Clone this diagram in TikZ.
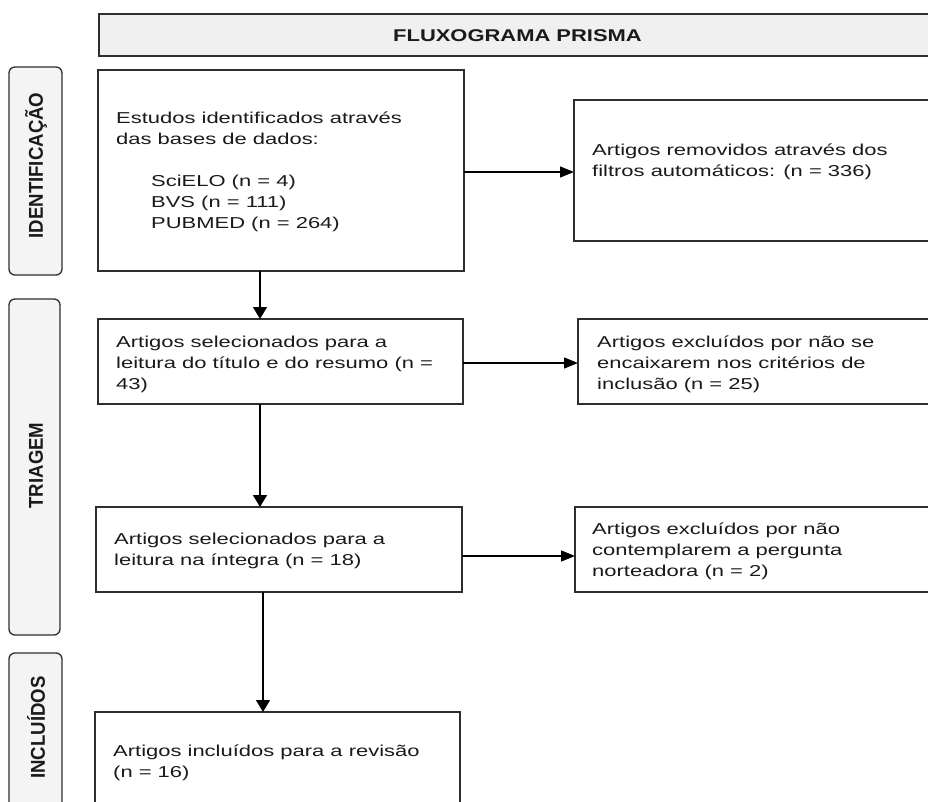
\documentclass[tikz,border=0pt]{standalone}
\usepackage{fontspec}
\usetikzlibrary{arrows.meta}
\newfontfamily\mainf[FakeStretch=1.39]{Liberation Sans}
\newfontfamily\titlef[FakeStretch=1.29]{Liberation Sans}
\newfontfamily\sidef[FakeStretch=0.93]{Liberation Sans}
\definecolor{edge}{HTML}{2E2E2E}
\definecolor{hdrfill}{HTML}{F0F0F0}
\definecolor{sidefill}{HTML}{F4F4F4}
\definecolor{ink}{HTML}{1A1A1A}
\begin{document}
\begin{tikzpicture}[x=1pt,y=-1pt,
  box/.style={draw=edge, line width=1.3pt, fill=white, inner sep=0pt, outer sep=0pt},
  hdrbox/.style={box, fill=hdrfill},
  sidebox/.style={draw=edge, line width=1.3pt, fill=sidefill, rounded corners=6pt, inner sep=0pt, outer sep=0pt},
  txt/.style={font=\mainf\fontsize{15.8}{21}\selectfont, text=ink, align=left, inner sep=0pt, anchor=base west},
  ttl/.style={font=\titlef\bfseries\fontsize{17}{20}\selectfont, text=ink, inner sep=0pt, anchor=base},
  sidetxt/.style={font=\sidef\bfseries\fontsize{20}{20}\selectfont, text=ink, inner sep=0pt, rotate=90},
  harr/.style={draw=black, line width=1.3pt, -{Triangle[length=14pt,width=11pt]}},
  varr/.style={draw=black, line width=1.3pt, -{Triangle[length=12pt,width=14pt]}}
]
\useasboundingbox (0,0) rectangle (928,802);
\clip (0,0) rectangle (928,802);

% header
\node[hdrbox, minimum width=841pt, minimum height=42pt] (hdr) at (519.5,35) {};
\node[ttl] (hdrt) at (517.5,41.5) {FLUXOGRAMA PRISMA};

% side labels
\node[sidebox, minimum width=53pt, minimum height=208pt] (s1) at (35.5,171) {};
\node[sidetxt] (s1t) at (36,165.5) {IDENTIFICAÇÃO};
\node[sidebox, minimum width=51pt, minimum height=336pt] (s2) at (34.5,467) {};
\node[sidetxt] (s2t) at (36,465.5) {TRIAGEM};
\node[sidebox, minimum width=53pt, minimum height=190pt] (s3) at (35.5,748) {};
\node[sidetxt] (s3t) at (36,727.5) {INCLUÍDOS};

% main column (text anchors at the baseline of the last line)
\node[box, minimum width=366pt, minimum height=201pt] (b1) at (281,170.5) {};
\node[txt] (b1t) at (116,145) {Estudos identificados através\\das bases de dados:};
\node[txt] (b1l) at (151,229) {SciELO (n = 4)\\BVS (n = 111)\\PUBMED (n = 264)};

\node[box, minimum width=365pt, minimum height=85pt] (b3) at (280.5,361.5) {};
\node[txt] (b3t) at (116,389) {Artigos selecionados para a\\leitura do título e do resumo (n =\\43)};

\node[box, minimum width=366pt, minimum height=85pt] (b4) at (279,549.5) {};
\node[txt] (b4t) at (114,565) {Artigos selecionados para a\\leitura na íntegra (n = 18)};

\node[box, minimum width=365pt, minimum height=120pt] (b5) at (277.5,772) {};
\node[txt] (b5t) at (113,777) {Artigos incluídos para a revisão\\(n = 16)};

% right column
\node[box, minimum width=366pt, minimum height=141pt] (b2) at (757,170.5) {};
\node[txt] (b2t) at (592,177) {Artigos removidos através dos\\filtros automáticos: (n = 336)};

\node[box, minimum width=362pt, minimum height=85pt] (b6) at (759,361.5) {};
\node[txt] (b6t) at (597,389) {Artigos excluídos por não se\\encaixarem nos critérios de\\inclusão (n = 25)};

\node[box, minimum width=365pt, minimum height=85pt] (b7) at (757.5,549.5) {};
\node[txt] (b7t) at (592,576) {Artigos excluídos por não\\contemplarem a pergunta\\norteadora (n = 2)};

% connectors
\draw[harr] ([yshift=-1.5pt]b1.east) -- ([yshift=-1.5pt]b1.east -| b2.west);
\draw[harr] ([yshift=-1.5pt]b3.east) -- ([yshift=-1.5pt]b3.east -| b6.west);
\draw[harr] ([yshift=-6.5pt]b4.east) -- ([yshift=-6.5pt]b4.east -| b7.west);

\coordinate (v1) at ([xshift=-21pt]b1.south);
\coordinate (v2) at ([xshift=-20.5pt]b3.south);
\coordinate (v3) at ([xshift=-16pt]b4.south);
\draw[varr] (v1) -- (v1 |- b3.north);
\draw[varr] (v2) -- (v2 |- b4.north);
\draw[varr] (v3) -- (v3 |- b5.north);
\end{tikzpicture}
\end{document}
